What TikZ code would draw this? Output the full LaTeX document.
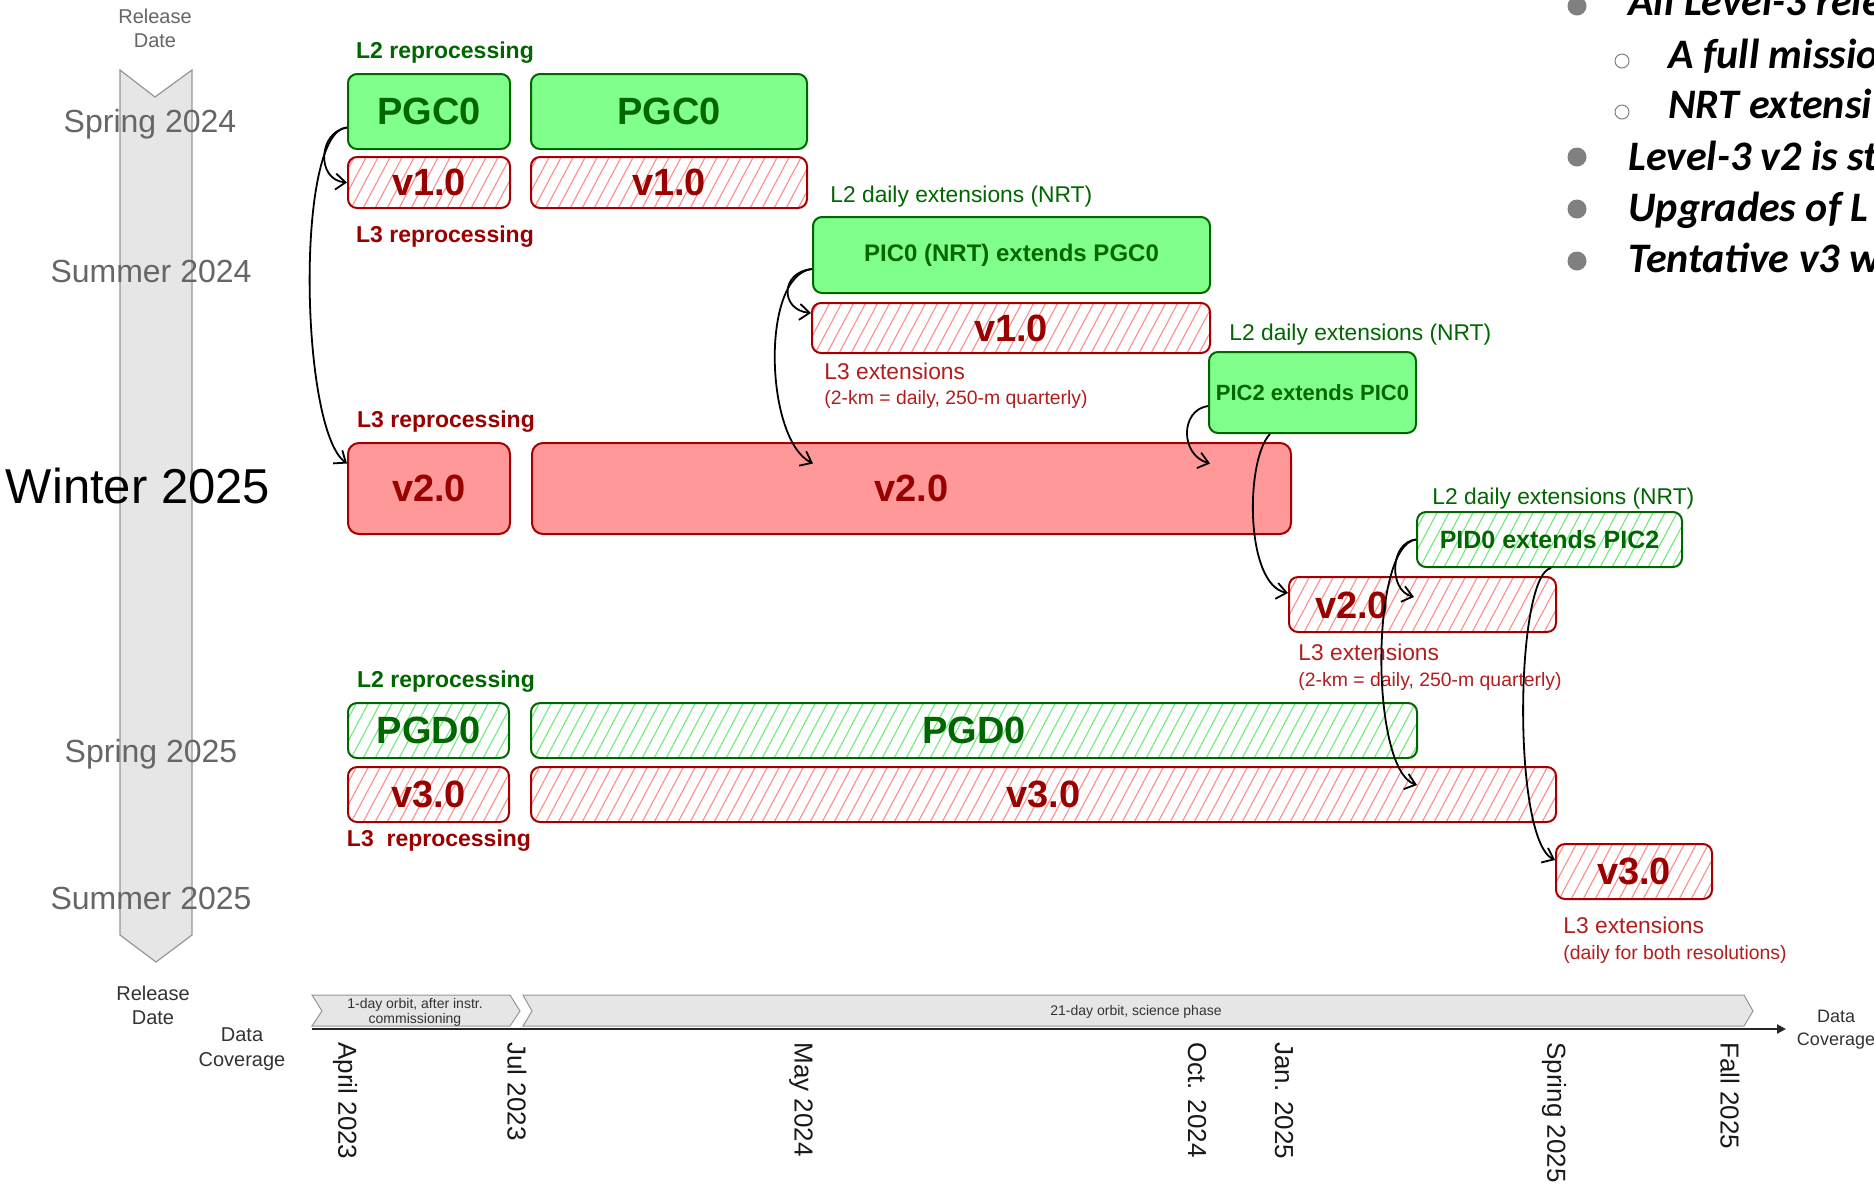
\documentclass[tikz,border=0pt]{standalone}
\usepackage{fontspec}
\setmainfont{Liberation Sans}
\newfontfamily\calibfont{Carlito}
\usetikzlibrary{arrows.meta,calc,fit}
\newcommand\fsz[2]{\fontsize{#1}{#2}\selectfont}

\definecolor{gfill}{RGB}{128,255,140}
\definecolor{gdark}{RGB}{0,102,0}
\definecolor{ghl}{RGB}{110,235,125}
\definecolor{rfill}{RGB}{255,153,153}
\definecolor{rdark}{RGB}{165,0,0}
\definecolor{rtext}{RGB}{153,0,0}
\definecolor{rhl}{RGB}{255,140,140}
\definecolor{rthin}{RGB}{178,30,30}
\definecolor{bandfill}{RGB}{230,230,230}
\definecolor{bandline}{RGB}{150,150,150}
\definecolor{season}{RGB}{102,102,102}
\definecolor{bulletgray}{RGB}{128,128,128}

\tikzset{
  hatch/.style={path picture={
    \foreach \k in {-14,...,100}
      \draw[#1, line width=0.55pt]
        ($(path picture bounding box.south west)+(\k*12,6)$) -- ++(68,-128);
  }},
  box/.style={inner sep=0pt, line width=1pt, rounded corners=4.5pt},
  gsolid/.style={box, draw=gdark, fill=gfill},
  ghatch/.style={box, draw=gdark, fill=white, hatch=ghl},
  rsolid/.style={box, draw=rdark, fill=rfill, rounded corners=5.5pt},
  rhatch/.style={box, draw=rdark, fill=white, hatch=rhl},
  gtxt/.style={inner sep=0pt, text=gdark},
  rtxt/.style={inner sep=0pt, text=rtext},
  big/.style={font=\bfseries\fsz{19}{19}},
  lblGB/.style={inner sep=0pt, text=gdark, font=\bfseries\fsz{11.5}{13}},
  lblRB/.style={inner sep=0pt, text=rtext, font=\bfseries\fsz{11.5}{13}},
  lblG/.style={inner sep=0pt, anchor=west, text=gdark, font=\fsz{11.4}{13}},
  lblR/.style={inner sep=0pt, anchor=west, text=rthin, font=\fsz{11.4}{13}},
  lblRs/.style={inner sep=0pt, anchor=west, text=rthin, font=\fsz{9.7}{11}},
  seasonlbl/.style={inner sep=0pt, text=season, font=\fsz{16}{18}},
  datelbl/.style={rotate=-90, anchor=west, inner sep=0pt, text=black!90, font=\fsz{13}{15}},
  axislbl/.style={inner sep=0pt, align=center, text=black!80},
  phase/.style={draw=bandline, fill=bandfill, line width=0.5pt},
  conn/.style={draw=black, line width=0.9pt, -{Straight Barb[length=5pt,width=8pt]}},
  bul/.style={inner sep=0pt, anchor=base west, text=black, font=\calibfont\bfseries\itshape\fsz{21}{24}},
}

\begin{document}
\begin{tikzpicture}[x=0.5pt,y=-0.5pt]
\useasboundingbox (0,0) rectangle (1874,1185);
\fill[white] (0,0) rectangle (1874,1185);

% release-date band on the left
\draw[draw=bandline, fill=bandfill, line width=0.6pt]
  (120,70) -- (155,97) -- (192,70) -- (192,935) -- (156,962) -- (120,935) -- cycle;
\node[axislbl, text=season, font=\fsz{10}{12}] (reltop) at (155,28) {Release\\Date};
\node[axislbl, text=black!80, font=\fsz{10}{12}] (relbot) at (153,1005) {Release\\Date};
\node[seasonlbl] (sp24) at (150,124) {Spring 2024};
\node[seasonlbl] (su24) at (151,271) {Summer 2024};
\node[inner sep=0pt, text=black, font=\fsz{24.5}{28}] (wi25) at (138,486) {Winter 2025};
\node[seasonlbl] (sp25) at (151,754) {Spring 2025};
\node[seasonlbl] (su25) at (151,898) {Summer 2025};

% Spring 2024: first reprocessing
\node[lblGB] (l2repA) at (445,53) {L2 reprocessing};
\node[gsolid, fit={(348,74) (510,149)}] (pgcA) {};
\node[gtxt, big] (pgcAt) at (pgcA.center) {PGC0};
\node[gsolid, fit={(531,74) (807,149)}] (pgcB) {};
\node[gtxt, big] (pgcBt) at (pgcB.center) {PGC0};
\node[rhatch, fit={(348,157) (510,208)}] (vOneA) {};
\node[rtxt, big] (vOneAt) at (vOneA.center) {v1.0};
\node[rhatch, fit={(531,157) (807,208)}] (vOneB) {};
\node[rtxt, big] (vOneBt) at (vOneB.center) {v1.0};
\node[lblRB] (l3repA) at (445,237) {L3 reprocessing};

% Summer 2024: NRT extensions
\node[lblG] (l2dayA) at (830,197) {L2 daily extensions (NRT)};
\node[gsolid, fit={(813,217) (1210,293)}] (picZero) {};
\node[gtxt, font=\bfseries\fsz{12}{14}] (picZerot) at (picZero.center) {PIC0 (NRT) extends PGC0};
\node[rhatch, fit={(812,303) (1210,353)}] (vOneC) {};
\node[rtxt, big] (vOneCt) at (vOneC.center) {v1.0};
\node[lblR] (l3extA) at (824,371) {L3 extensions};
\node[lblRs] (l3extAn) at (824,399) {(2-km = daily, 250-m quarterly)};

% Winter 2025: second reprocessing
\node[lblRB] (l3repB) at (446,422) {L3 reprocessing};
\node[rsolid, fit={(348,443) (510,534)}] (vTwoA) {};
\node[rtxt, big] (vTwoAt) at (vTwoA.center) {v2.0};
\node[rsolid, fit={(532,443) (1291,534)}] (vTwoB) {};
\node[rtxt, big] (vTwoBt) at (vTwoB.center) {v2.0};
\node[lblG] (l2dayB) at (1229,335) {L2 daily extensions (NRT)};
\node[gsolid, fit={(1209,352) (1416,433)}] (picTwo) {};
\node[gtxt, font=\bfseries\fsz{11}{13}] (picTwot) at (picTwo.center) {PIC2 extends PIC0};

\node[lblG] (l2dayC) at (1432,499) {L2 daily extensions (NRT)};
\node[ghatch, fit={(1417,512) (1682,567)}] (pidZero) {};
\node[gtxt, font=\bfseries\fsz{12.5}{14}] (pidZerot) at (pidZero.center) {PID0 extends PIC2};
\node[rhatch, fit={(1289,577) (1556,632)}] (vTwoC) {};
\node[rtxt, big] (vTwoCt) at (1352,605) {v2.0};
\node[lblR] (l3extB) at (1298,652) {L3 extensions};
\node[lblRs] (l3extBn) at (1298,681) {(2-km = daily, 250-m quarterly)};

% Spring 2025: third reprocessing
\node[lblGB] (l2repB) at (446,682) {L2 reprocessing};
\node[ghatch, fit={(348,703) (509,758)}] (pgdA) {};
\node[gtxt, big] (pgdAt) at (pgdA.center) {PGD0};
\node[ghatch, fit={(531,703) (1417,758)}] (pgdB) {};
\node[gtxt, big] (pgdBt) at (pgdB.center) {PGD0};
\node[rhatch, fit={(348,767) (509,822)}] (vThreeA) {};
\node[rtxt, big] (vThreeAt) at (vThreeA.center) {v3.0};
\node[rhatch, fit={(531,767) (1556,822)}] (vThreeB) {};
\node[rtxt, big] (vThreeBt) at (vThreeB.center) {v3.0};
\node[lblRB] (l3repC) at (439,841) {L3\ \ reprocessing};

% Summer 2025
\node[rhatch, fit={(1556,844) (1712,899)}] (vThreeC) {};
\node[rtxt, big] (vThreeCt) at (vThreeC.center) {v3.0};
\node[lblR] (l3extC) at (1563,925) {L3 extensions};
\node[lblRs] (l3extCn) at (1563,954) {(daily for both resolutions)};

% connectors
\coordinate (sA) at ($(pgcA.west)+(0,16)$);
\draw[conn] (sA) .. controls (318,132) and (316,180) .. (vOneA.west);
\draw[conn] (sA) .. controls (295,130) and (300,430) .. ($(vTwoA.west)+(0,-25)$);

\coordinate (sB) at ($(picZero.west)+(0,14)$);
\draw[conn] (sB) .. controls (780,272) and (780,310) .. ($(vOneC.west)+(0,-15)$);
\draw[conn] (sB) .. controls (760,275) and (765,440) .. ($(vTwoB.east)+(-479,-25)$);

\coordinate (sC) at ($(picTwo.west)+(0,13.5)$);
\draw[conn] (sC) .. controls (1180,410) and (1180,455) .. ($(vTwoB.east)+(-82,-25)$);

\coordinate (sD) at ($(picTwo.south west)+(62,0)$);
\draw[conn] (sD) .. controls (1245,460) and (1245,585) .. ($(vTwoC.west)+(0,-11.5)$);

\coordinate (sE) at (pidZero.west);
\draw[conn] (sE) .. controls (1390,542) and (1388,590) .. ($(vTwoC.north west)+(126,21)$);
\draw[conn] (sE) .. controls (1370,545) and (1370,770) .. ($(vThreeB.north east)+(-140,19)$);

\coordinate (sF) at ($(pidZero.south west)+(135,0)$);
\draw[conn] (sF) .. controls (1515,575) and (1512,840) .. ($(vThreeC.west)+(0,-11.5)$);

% data coverage axis
\draw[phase] (312,995) -- (510,995) -- (520,1011) -- (510,1026) -- (312,1026) -- (322,1011) -- cycle;
\draw[phase] (523,995) -- (1744,995) -- (1753,1011) -- (1744,1026) -- (523,1026) -- (532,1011) -- cycle;
\node[axislbl, text=black!80, font=\fsz{7}{7.6}] (ph1) at (415,1012) {1-day orbit, after instr.\\commissioning};
\node[axislbl, text=black!80, font=\fsz{7}{8}] (ph2) at (1136,1012) {21-day orbit, science phase};
\coordinate (axL) at (312,1029);
\coordinate (axR) at (1786,1029);
\draw[line width=1pt, black!85, -{Triangle[length=4.5pt,width=4.5pt]}] (axL) -- (axR);
\node[axislbl, font=\fsz{10}{12.3}] (dcL) at (242,1049) {Data\\Coverage};

\node[datelbl] (dApr) at (345,1042) {April 2023};
\node[datelbl] (dJul) at (517,1042) {Jul 2023};
\node[datelbl] (dMay) at (801,1042) {May 2024};
\node[datelbl] (dOct) at (1197,1042) {Oct. 2024};
\node[datelbl] (dJan) at (1284,1042) {Jan. 2025};
\node[datelbl] (dSpr) at (1554,1042) {Spring 2025};
\node[datelbl] (dFal) at (1730,1042) {Fall 2025};

\begin{scope}
\clip (0,0) rectangle (1874,1185);
\node[axislbl, font=\fsz{9}{11.5}] (dcR) at (1836,1030) {Data\\Coverage};
% notes
\fill[bulletgray] (1577,6) circle[radius=9.5];
\draw[bulletgray, line width=0.5pt] (1622,61) circle[radius=7];
\draw[bulletgray, line width=0.5pt] (1622,112) circle[radius=7];
\fill[bulletgray] (1577,157) circle[radius=9.5];
\fill[bulletgray] (1577,209) circle[radius=9.5];
\fill[bulletgray] (1577,261) circle[radius=9.5];
\node[bul] (n1) at (1628,15) {All Level-3 rele};
\node[bul] (n1a) at (1668,68) {A full missio};
\node[bul] (n1b) at (1668,118) {NRT extensi};
\node[bul] (n2) at (1628,170) {Level-3 v2 is st};
\node[bul] (n3) at (1628,221) {Upgrades of L};
\node[bul] (n4) at (1628,272) {Tentative v3 w};
\end{scope}
\end{tikzpicture}
\end{document}
